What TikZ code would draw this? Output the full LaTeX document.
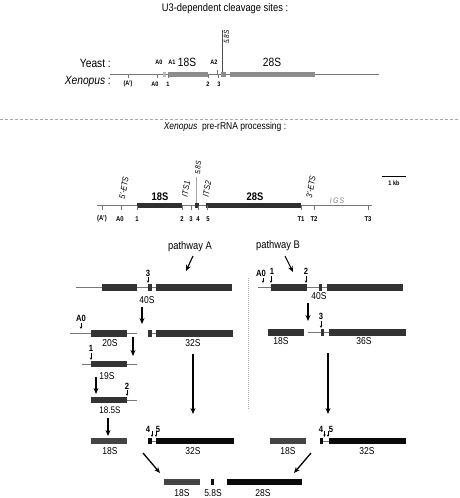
\documentclass[tikz,border=0pt]{standalone}
\usepackage{fontspec}
\setmainfont[FakeStretch=0.85]{Liberation Sans}
\usetikzlibrary{arrows.meta}
\definecolor{lgray}{HTML}{8C8C8C}
\definecolor{dbox}{HTML}{333333}
\definecolor{mbox}{HTML}{444444}
\definecolor{kbox}{HTML}{0A0A0A}
\definecolor{thinl}{HTML}{777777}
\tikzset{
  rna/.style={draw=thinl, line width=0.6pt},
  tickm/.style={draw=thinl, line width=0.5pt},
  tlab/.style={font=\fontsize{6.5}{7}\selectfont\bfseries, inner sep=0pt},
  mlab/.style={font=\fontsize{7}{8}\selectfont\bfseries, inner sep=0pt},
  clab/.style={font=\fontsize{9}{10}\selectfont\bfseries, inner sep=0pt},
  rlab/.style={font=\fontsize{10}{11}\selectfont, inner sep=0pt},
  rot/.style={font=\fontsize{8.5}{9}\selectfont\itshape, inner sep=0pt, rotate=80},
  bigarrow/.style={line width=1.3pt, -{Stealth[length=6pt,width=5pt]}},
  cut/.style={line width=0.5pt, -{Stealth[length=2.6pt,width=2.4pt]}},
}
\begin{document}
\begin{tikzpicture}[x=1pt,y=-1pt]
\useasboundingbox (0,0) rectangle (459,498);
% ---------- top ----------
\node[font=\fontsize{11}{12}\selectfont, inner sep=0pt] (title1) at (225,9) {U3-dependent cleavage sites :};
\draw[rna] (110,74.5) -- (379,74.5);
\fill[gray!55] (163,72) rectangle (166,77);
\fill[lgray] (168,72) rectangle (208,77);
\fill[lgray] (221,72) rectangle (226,77);
\fill[lgray] (230,72) rectangle (315,77);
\draw[draw=black!70, line width=0.5pt] (222,30) -- (222,72);
\node[font=\fontsize{7.5}{8}\selectfont\itshape, inner sep=0pt, rotate=90] (t58) at (226.5,37) {5.8S};
\foreach \x in {128,157,168,208,218} \draw[tickm] (\x,74.5) -- (\x,78);
\draw[tickm] (217,70) -- (217,74.5);
\node[tlab] (ta) at (128,84) {(A')};
\node[tlab] (tb) at (155,84) {A0};
\node[tlab] (tc) at (168,84) {1};
\node[tlab] (td) at (208,84) {2};
\node[tlab] (te) at (219,84) {3};
\node[tlab] (ya0) at (159,62) {A0};
\node[tlab] (ya1) at (172,62) {A1};
\node[tlab] (ya2) at (214,62) {A2};
\node[font=\fontsize{12}{13}\selectfont, inner sep=0pt] (y18) at (187,62) {18S};
\node[font=\fontsize{12}{13}\selectfont, inner sep=0pt] (y28) at (272,62) {28S};
\node[font=\fontsize{12}{13}\selectfont, inner sep=0pt, anchor=east] (yeast) at (111,63) {Yeast :};
\node[font=\fontsize{12}{13}\selectfont, inner sep=0pt, anchor=east] (xen) at (111,82) {\textit{Xenopus} :};
% separator
\draw[gray!70, line width=0.6pt, dash pattern=on 3pt off 2pt] (0,119) -- (459,119);
% ---------- middle ----------
\node[font=\fontsize{10}{11}\selectfont, inner sep=0pt] (title2) at (225,127) {\textit{Xenopus}\ \ pre-rRNA processing :};
\draw[rna] (97,205.5) -- (372,205.5);
\fill[kbox!85] (137,203) rectangle (182,208);
\fill[kbox!85] (195,203) rectangle (199,208);
\fill[kbox!85] (206,203) rectangle (301,208);
\foreach \x in {102,121,137,182,191,198,207,301,314,368} \draw[tickm] (\x,205.5) -- (\x,210);
\node[mlab] (m1) at (102,219) {(A')};
\node[mlab] (m2) at (120,219) {A0};
\node[mlab] (m3) at (137,219) {1};
\node[mlab] (m4) at (182,219) {2};
\node[mlab] (m5) at (191,219) {3};
\node[mlab] (m6) at (198,219) {4};
\node[mlab] (m7) at (208,219) {5};
\node[mlab] (m8) at (301,219) {T1};
\node[mlab] (m9) at (314,219) {T2};
\node[mlab] (m10) at (368,219) {T3};
\node[font=\fontsize{11}{12}\selectfont\bfseries, inner sep=0pt] (m18) at (160,197) {18S};
\node[font=\fontsize{11}{12}\selectfont\bfseries, inner sep=0pt] (m28) at (255,197) {28S};
\node[rot] (ets5) at (124,188) {5'-ETS};
\node[rot] (its1) at (186,189) {ITS1};
\node[rot] (its2) at (207,189) {ITS2};
\node[rot] (ets3) at (311,187) {3'-ETS};
\node[font=\fontsize{7.5}{8}\selectfont\itshape, inner sep=0pt, rotate=85] (m58) at (198,168) {5.8S};
\draw[gray!70, line width=0.5pt] (196.5,177) -- (196.5,203);
\node[font=\fontsize{8}{9}\selectfont\itshape, text=gray, inner sep=0pt] (igs) at (337,201) {I\,G\,S};
\draw[line width=0.9pt] (382,176) -- (406,176);
\node[tlab] (kb) at (394,183) {1 kb};
% ---------- pathways ----------
\node[font=\fontsize{11}{12}\selectfont, inner sep=0pt] (pa) at (190,247) {pathway A};
\node[font=\fontsize{11}{12}\selectfont, inner sep=0pt] (pb) at (278,246) {pathway B};
\coordinate (pae) at (186,271);
\coordinate (pbe) at (293,272);
\draw[bigarrow, line width=1.1pt] (193,256) -- (pae);
\draw[bigarrow, line width=1.1pt] (285,256) -- (pbe);
\draw[gray!70, line width=0.5pt, dash pattern=on 1pt off 1pt] (248,278) -- (248,410);
% --- pathway A row 1 (40S)
\draw[rna] (76,287.5) -- (156,287.5);
\fill[dbox] (102,284) rectangle (137,291);
\fill[dbox] (148,284) rectangle (152,291);
\fill[dbox] (156,284) rectangle (232,291);
\node[clab] (a3) at (148,273) {3};
\coordinate (a3e) at (148,283);
\draw[cut] (148,277) -- (a3e);
\node[rlab] (a40) at (147,300) {40S};
\coordinate (ar1s) at (142,307); \coordinate (ar1e) at (142,324);
\draw[bigarrow] (ar1s) -- (ar1e);
% --- row 2 (20S + 32S)
\draw[rna] (70,333.5) -- (137,333.5);
\fill[dbox] (91,330) rectangle (127,337);
\node[clab] (aA0) at (81,318) {A0};
\coordinate (aA0e) at (81,329);
\draw[cut] (81,323) -- (aA0e);
\node[rlab] (a20) at (110,343) {20S};
\draw[rna] (148,333.5) -- (156,333.5);
\fill[dbox] (148,330) rectangle (152,337);
\fill[dbox] (156,330) rectangle (233,337);
\node[rlab] (a32) at (193,343) {32S};
\coordinate (ar2s) at (133,337); \coordinate (ar2e) at (133,356);
\draw[bigarrow] (ar2s) -- (ar2e);
\coordinate (al1s) at (193,354); \coordinate (al1e) at (193,414);
\draw[bigarrow, line width=1.5pt] (al1s) -- (al1e);
% --- row 3 (19S)
\draw[rna] (82,364) -- (137,364);
\fill[dbox] (91,361) rectangle (127,367);
\node[clab] (a1) at (91,348) {1};
\coordinate (a1e) at (91,360);
\draw[cut] (91,353) -- (a1e);
\node[rlab] (a19) at (107,376) {19S};
\coordinate (ar3s) at (96,377); \coordinate (ar3e) at (96,394);
\draw[bigarrow] (ar3s) -- (ar3e);
% --- row 4 (18.5S)
\draw[rna] (91,400) -- (137,400);
\fill[dbox] (91,397) rectangle (127,403);
\node[clab] (a2) at (127,386) {2};
\coordinate (a2e) at (127,396);
\draw[cut] (127,390) -- (a2e);
\node[font=\fontsize{9.5}{10}\selectfont, inner sep=0pt] (a185) at (110,410) {18.5S};
\coordinate (ar4s) at (108,418); \coordinate (ar4e) at (108,436);
\draw[bigarrow] (ar4s) -- (ar4e);
% --- row 5 A
\fill[mbox] (91,438) rectangle (127,444);
\node[rlab] (a18) at (110,451) {18S};
\draw[rna] (152,441) -- (156,441);
\fill[kbox] (148,438) rectangle (152,444);
\fill[kbox] (156,438) rectangle (234,444);
\node[clab] (a4) at (148,429) {4};
\node[clab] (a5) at (158,429) {5};
\coordinate (a4e) at (152,437); \coordinate (a5e) at (156,437);
\draw[cut] (152,431) -- (a4e);
\draw[cut] (156,431) -- (a5e);
\node[rlab] (a32b) at (193,451) {32S};
% --- pathway B row 1
\draw[rna] (258,287.5) -- (327,287.5);
\fill[dbox] (271,284) rectangle (307,291);
\fill[dbox] (319,284) rectangle (322,291);
\fill[dbox] (327,284) rectangle (403,291);
\node[clab] (bA0) at (261,273) {A0};
\node[clab] (b1) at (272,271) {1};
\node[clab] (b2) at (306,271) {2};
\coordinate (bA0e) at (263,283); \coordinate (b1e) at (271,283); \coordinate (b2e) at (306,283);
\draw[cut] (263,278) -- (bA0e);
\draw[cut] (271,276) -- (b1e);
\draw[cut] (306,276) -- (b2e);
\node[rlab] (b40) at (319,296) {40S};
\coordinate (br1s) at (308,303); \coordinate (br1e) at (308,321);
\draw[bigarrow] (br1s) -- (br1e);
% --- pathway B row 2
\fill[dbox] (268,329) rectangle (304,336);
\draw[rna] (308,332.5) -- (329,332.5);
\fill[dbox] (321,329) rectangle (324,336);
\fill[dbox] (329,329) rectangle (406,336);
\node[clab] (b3) at (321,316) {3};
\coordinate (b3e) at (321,328);
\draw[cut] (321,321) -- (b3e);
\node[rlab] (b18) at (281,341) {18S};
\node[rlab] (b36) at (364,341) {36S};
\coordinate (bl1s) at (328,353); \coordinate (bl1e) at (328,414);
\draw[bigarrow, line width=1.5pt] (bl1s) -- (bl1e);
% --- pathway B row 3
\fill[mbox] (270,438) rectangle (306,444);
\draw[rna] (323,441) -- (329,441);
\fill[kbox] (320,438) rectangle (323,444);
\fill[kbox] (329,438) rectangle (406,444);
\node[clab] (b4) at (321,429) {4};
\node[clab] (b5) at (331,429) {5};
\coordinate (b4e) at (324.5,437); \coordinate (b5e) at (328,437);
\draw[cut] (324.5,431) -- (b4e);
\draw[cut] (328,431) -- (b5e);
\node[rlab] (b18b) at (288,451) {18S};
\node[rlab] (b32) at (367,451) {32S};
% --- final
\coordinate (dls) at (143,453); \coordinate (dle) at (160,473);
\coordinate (drs) at (311,453); \coordinate (dre) at (294,473);
\draw[bigarrow] (dls) -- (dle);
\draw[bigarrow] (drs) -- (dre);
\fill[mbox] (164,479) rectangle (200,485);
\fill[kbox] (211,479) rectangle (214,485);
\fill[kbox] (227,479) rectangle (302,485);
\node[rlab] (f18) at (182,493) {18S};
\node[rlab] (f58) at (213,493) {5.8S};
\node[rlab] (f28) at (263,493) {28S};
\end{tikzpicture}
\end{document}
